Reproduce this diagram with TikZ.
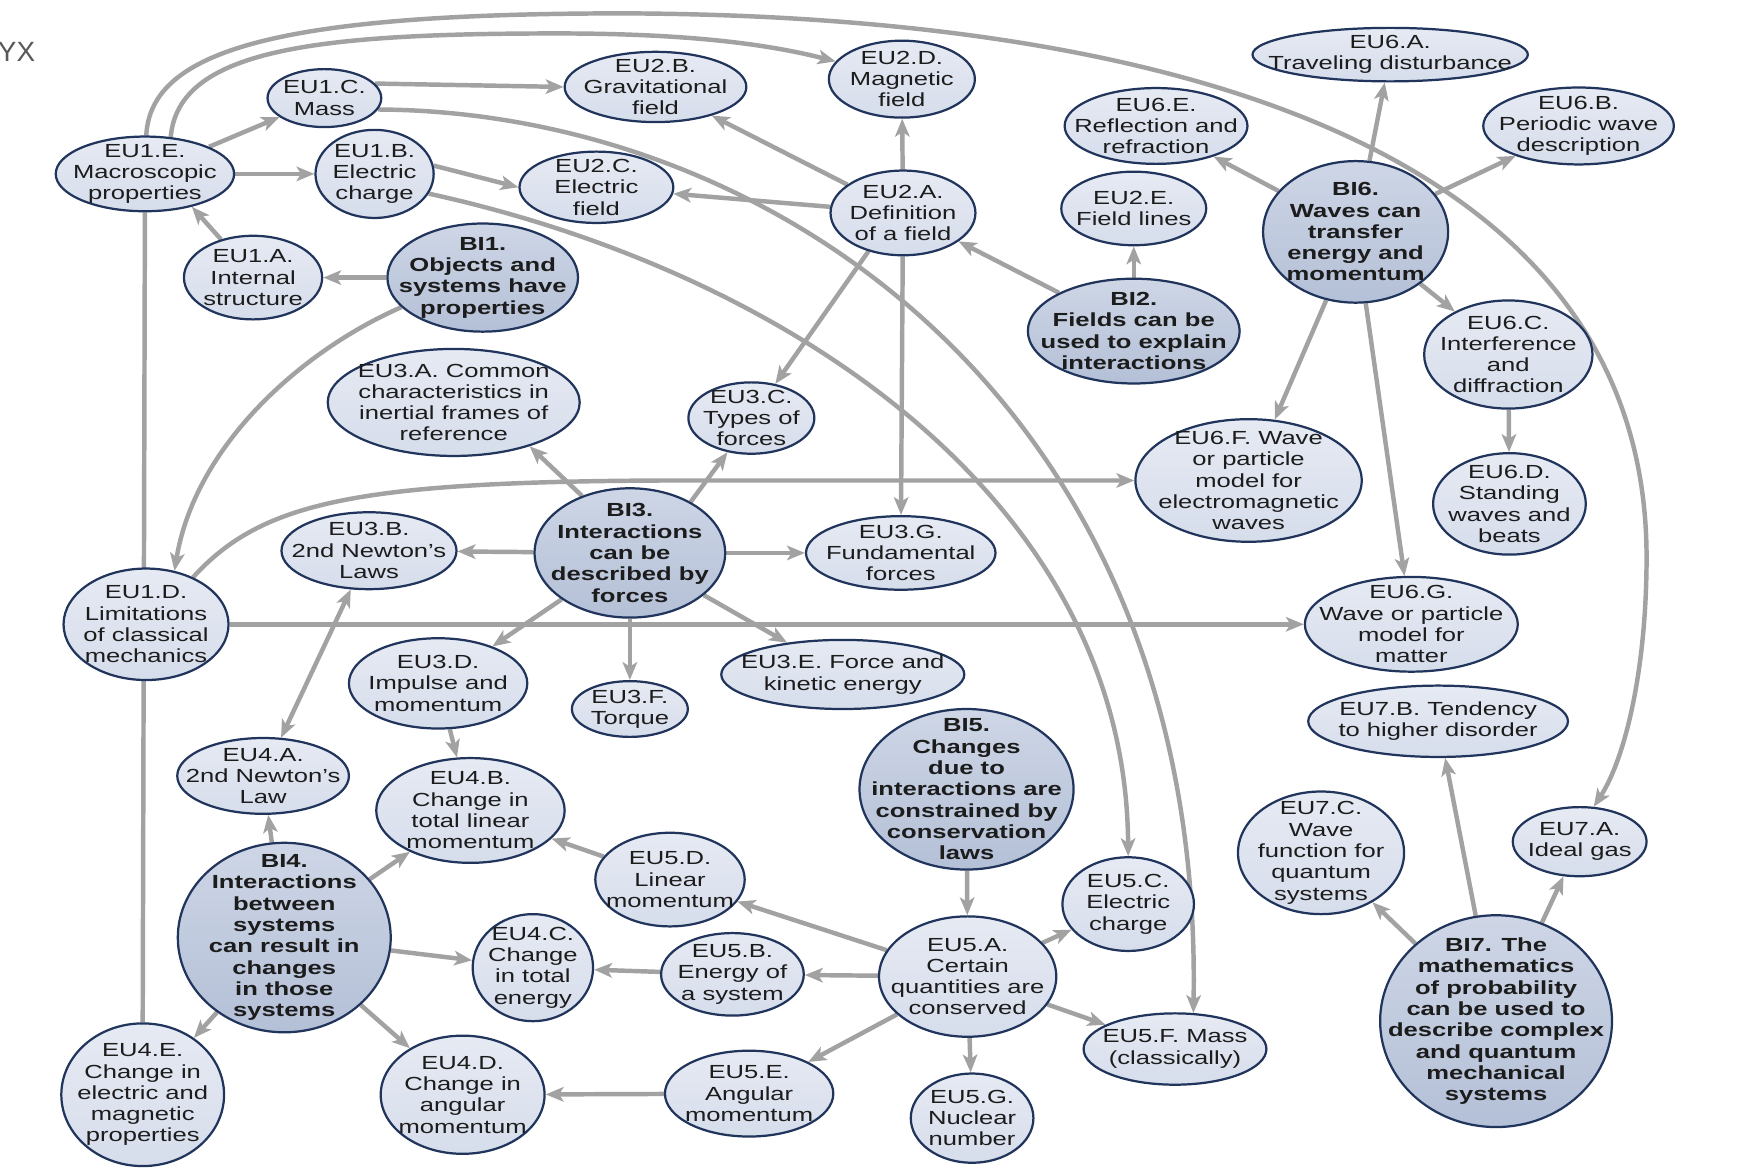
\documentclass[tikz,border=0pt]{standalone}
\usepackage{fontspec}
\setmainfont{Liberation Sans}[FakeStretch=1.35]
\newfontfamily\yxfont{Liberation Sans}
\usetikzlibrary{shapes.geometric,arrows.meta,backgrounds}
\definecolor{euTop}{RGB}{230,234,243}
\definecolor{euBot}{RGB}{214,221,235}
\definecolor{biTop}{RGB}{206,214,230}
\definecolor{biBot}{RGB}{180,192,215}
\definecolor{edgecol}{RGB}{162,162,162}
\definecolor{bordercol}{RGB}{32,52,92}
\definecolor{txtcol}{RGB}{28,28,28}
\tikzset{
  myhead/.tip={Stealth[length=16pt,width=13pt,inset=4pt]},
  eu/.style={ellipse,draw=bordercol,line width=2pt,top color=euTop,bottom color=euBot,inner sep=0pt},
  bi/.style={eu,top color=biTop,bottom color=biBot},
  lbl/.style={align=center,text=txtcol,inner sep=0pt,font=\fontsize{17}{19.1}\selectfont},
  lblb/.style={lbl,font=\fontsize{17}{19.1}\selectfont\bfseries},
  arr/.style={draw=edgecol,line width=4pt,-myhead},
  arrtwo/.style={draw=edgecol,line width=4pt,myhead-myhead},
  plainln/.style={draw=edgecol,line width=4pt},
}
\newcommand\EUnode[6]{\node[eu,minimum width=#4pt,minimum height=#5pt,label={[lbl]center:{#6}}] (#1) at (#2,#3) {};}
\newcommand\BInode[6]{\node[bi,minimum width=#4pt,minimum height=#5pt,label={[lblb]center:{#6}}] (#1) at (#2,#3) {};}
\begin{document}
\begin{tikzpicture}[x=1pt,y=-1pt]
\useasboundingbox (0,0) rectangle (1568,1051);
\node[anchor=west,inner sep=0pt,text=black!65,font=\yxfont\fontsize{25}{25}\selectfont] (yx) at (-2,47) {YX};

\EUnode{eu1e}{130}{156}{160}{67}{EU1.E.\\Macroscopic\\properties}
\EUnode{eu1c}{291}{88}{102}{52}{EU1.C.\\Mass}
\EUnode{eu1b}{336}{156}{106}{79}{EU1.B.\\Electric\\charge}
\EUnode{eu1a}{227}{249}{124}{75}{EU1.A.\\Internal\\structure}
\BInode{bi1}{433}{249}{171}{97}{BI1.\\Objects and\\systems have\\properties}
\EUnode{eu2b}{588}{78}{163}{63}{EU2.B.\\Gravitational\\field}
\EUnode{eu2d}{809}{71}{131}{69}{EU2.D.\\Magnetic\\field}
\EUnode{eu2c}{535}{168}{138}{64}{EU2.C.\\Electric\\field}
\EUnode{eu2a}{810}{191}{130}{76}{EU2.A.\\Definition\\of a field}
\EUnode{eu6e}{1037}{113}{164}{68}{EU6.E.\\Reflection and\\refraction}
\EUnode{eu2e}{1017}{187}{130}{66}{EU2.E.\\Field lines}
\EUnode{eu6a}{1247}{49}{247}{48}{EU6.A.\\Traveling disturbance}
\EUnode{eu6b}{1416}{113}{171}{69}{EU6.B.\\Periodic wave\\description}
\BInode{bi6}{1216}{208}{166}{127}{BI6.\\Waves can\\transfer\\energy and\\momentum}
\BInode{bi2}{1017}{297}{190}{94}{BI2.\\Fields can be\\used to explain\\interactions}
\EUnode{eu6c}{1353}{318}{151}{97}{EU6.C.\\Interference\\and\\diffraction}
\EUnode{eu3a}{407}{361}{226}{96}{EU3.A. Common\\characteristics in\\inertial frames of\\reference}
\EUnode{eu3c}{674}{375}{113}{64}{EU3.C.\\Types of\\forces}
\EUnode{eu6f}{1120}{431}{203}{110}{EU6.F. Wave\\or particle\\model for\\electromagnetic\\waves}
\EUnode{eu6d}{1354}{452}{137}{91}{EU6.D.\\Standing\\waves and\\beats}
\EUnode{eu3b}{331}{494}{157}{69}{EU3.B.\\2nd Newton’s\\Laws}
\BInode{bi3}{565}{496}{171}{116}{BI3.\\Interactions\\can be\\described by\\forces}
\EUnode{eu3g}{808}{496}{170}{66}{EU3.G.\\Fundamental\\forces}
\EUnode{eu1d}{131}{560}{148}{100}{EU1.D.\\Limitations\\of classical\\mechanics}
\EUnode{eu6g}{1266}{560}{191}{85}{EU6.G.\\Wave or particle\\model for\\matter}
\EUnode{eu3d}{393}{613}{160}{81}{EU3.D.\\Impulse and\\momentum}
\EUnode{eu3f}{565}{636}{104}{50}{EU3.F.\\Torque}
\EUnode{eu3e}{756}{605}{218}{62}{EU3.E. Force and\\kinetic energy}
\EUnode{eu7b}{1290}{647}{233}{64}{EU7.B. Tendency\\to higher disorder}
\EUnode{eu4a}{236}{696}{154}{68}{EU4.A.\\2nd Newton’s\\Law}
\EUnode{eu4b}{422}{727}{169}{94}{EU4.B.\\Change in\\total linear\\momentum}
\BInode{bi5}{867}{708}{192}{144}{BI5.\\Changes\\due to\\interactions are\\constrained by\\conservation\\laws}
\EUnode{eu5d}{601}{789}{134}{84}{EU5.D.\\Linear\\momentum}
\EUnode{eu7c}{1185}{765}{149}{110}{EU7.C.\\Wave\\function for\\quantum\\systems}
\EUnode{eu7a}{1417}{755}{120}{62}{EU7.A.\\Ideal gas}
\BInode{bi4}{255}{841}{191}{170}{BI4.\\Interactions\\between\\systems\\can result in\\changes\\in those\\systems}
\EUnode{eu5c}{1012}{811}{118}{84}{EU5.C.\\Electric\\charge}
\EUnode{eu4c}{478}{868}{108}{96}{EU4.C.\\Change\\in total\\energy}
\EUnode{eu5b}{657}{874}{128}{74}{EU5.B.\\Energy of\\a system}
\EUnode{eu5a}{868}{876}{159}{108}{EU5.A.\\Certain\\quantities are\\conserved}
\BInode{bi7}{1342}{916}{208}{190}{BI7. The\\mathematics\\of probability\\can be used to\\describe complex\\and quantum\\mechanical\\systems}
\EUnode{eu5f}{1054}{941}{164}{64}{EU5.F. Mass\\(classically)}
\EUnode{eu4e}{128}{982}{146}{128}{EU4.E.\\Change in\\electric and\\magnetic\\properties}
\EUnode{eu4d}{415}{982}{147}{106}{EU4.D.\\Change in\\angular\\momentum}
\EUnode{eu5e}{672}{981}{151}{77}{EU5.E.\\Angular\\momentum}
\EUnode{eu5g}{872}{1003}{110}{80}{EU5.G.\\Nuclear\\number}

\begin{scope}[on background layer]
% long curves
\draw[arr] (eu1e.88) .. controls (135,45) and (250,12) .. (560,12)
  .. controls (1085,14) and (1477,150) .. (1477,500)
  .. controls (1477,600) and (1458,680) .. (eu7a.68);
\draw[arr] (eu1e.55) .. controls (160,45) and (280,30) .. (500,30)
  .. controls (620,30) and (690,40) .. (eu2d.165);
\draw[plainln] (eu1e.south) -- (eu4e.north);
\draw[arr] (bi1.200) .. controls (270,315) and (175,400) .. (eu1d.62);
\draw[arr] (eu1d.45) .. controls (235,450) and (320,432) .. (600,431) -- (eu6f.west);
\draw[arr] (eu1d.east) -- (eu6g.west);
\draw[arr] (eu1c.-12) .. controls (690,100) and (1080,360) .. (eu5f.63);
\draw[arr] (eu1b.-20) .. controls (710,245) and (1010,450) .. (eu5c.north);
% BI1 cluster
\draw[arr] (eu1e) -- (eu1c);
\draw[arr] (eu1e) -- (eu1b);
\draw[arr] (eu1a.130) -- (eu1e.-35);
\draw[arr] (bi1) -- (eu1a);
\draw[arr] (eu1c.16) -- (eu2b.west);
\draw[arr] (eu1b.8) -- (eu2c.west);
% BI2 cluster
\draw[arr] (eu2a) -- (eu2c);
\draw[arr] (eu2a) -- (eu2b);
\draw[arr] (eu2a) -- (eu2d);
\draw[arr] (eu2a.228) -- (eu3c.55);
\draw[arr] (eu2a) -- (eu3g);
\draw[arr] (bi2) -- (eu2a);
\draw[arr] (bi2) -- (eu2e);
% BI6 cluster
\draw[arr] (bi6) -- (eu6a);
\draw[arr] (bi6) -- (eu6e);
\draw[arr] (bi6) -- (eu6b);
\draw[arr] (bi6) -- (eu6c);
\draw[arr] (bi6) -- (eu6f);
\draw[arr] (bi6) -- (eu6g);
\draw[arr] (eu6c) -- (eu6d);
% BI3 cluster
\draw[arr] (bi3.130) -- (eu3a.-30);
\draw[arr] (bi3.40) -- (eu3c.235);
\draw[arr] (bi3) -- (eu3b);
\draw[arr] (bi3) -- (eu3g);
\draw[arr] (bi3) -- (eu3d);
\draw[arr] (bi3) -- (eu3f);
\draw[arr] (bi3) -- (eu3e);
\draw[arrtwo] (eu3b) -- (eu4a);
\draw[arr] (eu3d) -- (eu4b);
% BI4 cluster
\draw[arr] (bi4) -- (eu4a);
\draw[arr] (bi4) -- (eu4b);
\draw[arr] (bi4) -- (eu4c);
\draw[arr] (bi4) -- (eu4d);
\draw[arr] (bi4) -- (eu4e);
% BI5 cluster
\draw[arr] (bi5) -- (eu5a);
\draw[arr] (eu5d) -- (eu4b);
\draw[arr] (eu5a) -- (eu5d);
\draw[arr] (eu5a) -- (eu5b);
\draw[arr] (eu5b) -- (eu4c);
\draw[arr] (eu5a) -- (eu5e);
\draw[arr] (eu5e) -- (eu4d);
\draw[arr] (eu5a) -- (eu5g);
\draw[arr] (eu5a) -- (eu5f);
\draw[arr] (eu5a) -- (eu5c);
% BI7 cluster
\draw[arr] (bi7) -- (eu7c);
\draw[arr] (bi7) -- (eu7a);
\draw[arr] (bi7) -- (eu7b);
\end{scope}
\end{tikzpicture}
\end{document}
